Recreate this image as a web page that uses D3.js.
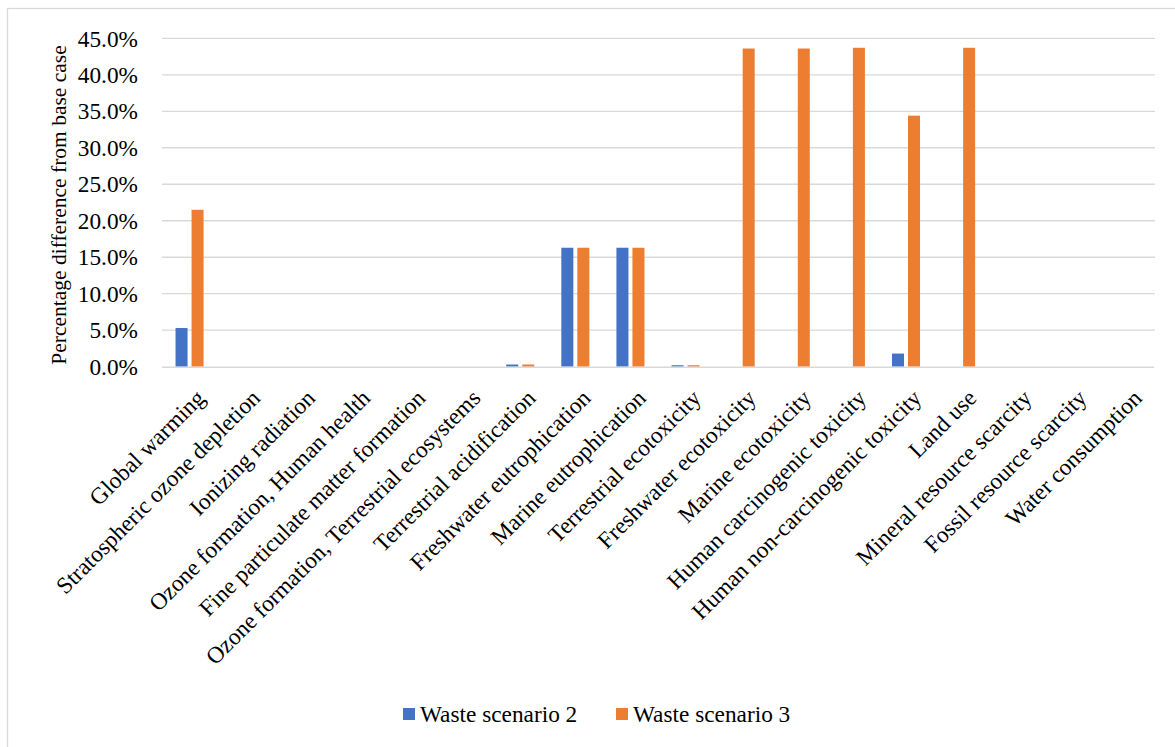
<!DOCTYPE html>
<html>
<head>
<meta charset="utf-8">
<script src="https://cdn.jsdelivr.net/npm/d3@7"></script>
<style>
  html, body { margin: 0; padding: 0; background: #fff; }
  svg { display: block; }
  svg text { font-family: 'Liberation Serif', 'Times New Roman', 'DejaVu Serif', 'Noto Serif', serif !important; fill: #000; }
</style>
</head>
<body>
<svg id="chart" width="1175" height="747"></svg>
<script>
const categories = [
  "Global warming", "Stratospheric ozone depletion", "Ionizing radiation",
  "Ozone formation, Human health", "Fine particulate matter formation",
  "Ozone formation, Terrestrial ecosystems", "Terrestrial acidification",
  "Freshwater eutrophication", "Marine eutrophication", "Terrestrial ecotoxicity",
  "Freshwater ecotoxicity", "Marine ecotoxicity", "Human carcinogenic toxicity",
  "Human non-carcinogenic toxicity", "Land use", "Mineral resource scarcity",
  "Fossil resource scarcity", "Water consumption"
];
const seriesNames = ["Waste scenario 2", "Waste scenario 3"];
const scenario2 = [0.053, 0, 0, 0, 0, 0, 0.003, 0.163, 0.163, 0.002, 0, 0, 0, 0.018, 0, 0, 0, 0];
const scenario3 = [0.215, 0, 0, 0, 0, 0, 0.003, 0.163, 0.163, 0.002, 0.436, 0.436, 0.437, 0.344, 0.437, 0, 0, 0];
const yTicks = [0, 0.05, 0.10, 0.15, 0.20, 0.25, 0.30, 0.35, 0.40, 0.45];
const colors = ["#4472C4", "#ED7D31"];
const yTitle = "Percentage difference from base case";

const FONT = "23.3px";
const TFONT = "21.5px";
const svg = d3.select("#chart");
const W = 1175, H = 747;
const plot = { left: 162, right: 1154, top: 38.3, bottom: 366.7 };

// outer border (cut off on right/bottom as in reference)
svg.append("rect")
  .attr("x", 7.5).attr("y", 8.5)
  .attr("width", W + 10).attr("height", H + 10)
  .attr("fill", "#fff").attr("stroke", "#d9d9d9").attr("stroke-width", 1.3);

const x0 = d3.scaleBand().domain(categories).range([plot.left, plot.right]).padding(0);
const x1 = d3.scaleBand().domain(seriesNames).range([0, x0.bandwidth()])
  .paddingInner(0.25).paddingOuter(0.845);
const y = d3.scaleLinear().domain([0, 0.45]).range([plot.bottom, plot.top]);

// gridlines
svg.append("g").selectAll("line").data(yTicks.slice(1)).join("line")
  .attr("x1", plot.left).attr("x2", plot.right + 1)
  .attr("y1", d => y(d)).attr("y2", d => y(d))
  .attr("stroke", "#d9d9d9").attr("stroke-width", 1.3);

// y axis labels
const yAxis = d3.axisLeft(y).tickValues(yTicks).tickFormat(d3.format(".1%")).tickSize(0).tickPadding(0);
const gy = svg.append("g").attr("transform", `translate(${138},0)`).call(yAxis);
gy.select(".domain").remove();
gy.selectAll("text")
  .attr("font-size", FONT)
  .attr("x", 0)
  .attr("dy", "0.33em");

// bars
const data = categories.map((c, i) => ({ cat: c, vals: [scenario2[i], scenario3[i]] }));
const groups = svg.append("g").selectAll("g").data(data).join("g")
  .attr("transform", d => `translate(${x0(d.cat)},0)`);
groups.selectAll("rect").data(d => d.vals.map((v, j) => ({ v, s: seriesNames[j], j })))
  .join("rect")
  .attr("x", d => x1(d.s))
  .attr("width", x1.bandwidth())
  .attr("y", d => y(d.v))
  .attr("height", d => y(0) - y(d.v))
  .attr("fill", d => colors[d.j]);

// x axis line
svg.append("line").attr("x1", plot.left).attr("x2", plot.right)
  .attr("y1", plot.bottom + 0.5).attr("y2", plot.bottom + 0.5)
  .attr("stroke", "#d9d9d9").attr("stroke-width", 1.5);

// x labels
const xAxis = d3.axisBottom(x0).tickSize(0).tickPadding(0);
const gx = svg.append("g").attr("transform", `translate(0,${plot.bottom})`).call(xAxis);
gx.select(".domain").remove();
gx.selectAll("text")
  .attr("font-size", FONT)
  .attr("text-anchor", "end")
  .attr("y", 0).attr("x", 0)
  .attr("dy", "0.71em")
  .attr("transform", "translate(5,21) rotate(-45)");

// y title
svg.append("text")
  .attr("transform", `translate(66,205) rotate(-90)`)
  .attr("text-anchor", "middle")
  .attr("font-size", TFONT)
  .text(yTitle);

// legend
const legend = svg.append("g");
const legendItems = [
  { name: seriesNames[0], color: colors[0], x: 403 },
  { name: seriesNames[1], color: colors[1], x: 616 }
];
legendItems.forEach(it => {
  legend.append("rect").attr("x", it.x).attr("y", 708).attr("width", 12).attr("height", 12).attr("fill", it.color);
  legend.append("text")
    .attr("x", it.x + 17).attr("y", 722)
    .attr("font-size", FONT).text(it.name);
});
</script>
</body>
</html>
